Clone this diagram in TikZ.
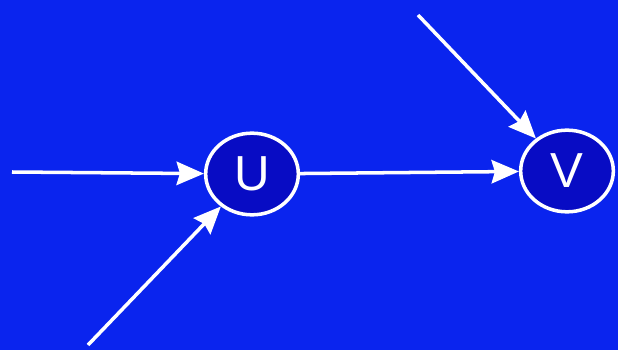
\documentclass[tikz,border=0pt]{standalone}
\usepackage{fontspec}
\setmainfont{Liberation Sans}
\usetikzlibrary{shapes.geometric, arrows.meta, positioning}
\definecolor{cBack}{RGB}{10,36,238}
\definecolor{cNode}{RGB}{8,12,196}
\tikzset{
	var/.style ={ellipse, draw=white, line width=3pt, fill=cNode, minimum width=2.78cm, minimum height=2.45cm, inner sep=0pt, text=white, font=\fontsize{42}{42}\selectfont},
	edge/.style={-{Stealth[length=0.82cm, width=0.7cm, inset=0.1cm]}, draw=white, line width=3pt},
}
\begin{document}
\begin{tikzpicture}
	\fill[cBack] (0,0) rectangle (18.54,10.5);
	\useasboundingbox (0,0) rectangle (18.54,10.5);
	\node[var] (u) at (7.56,5.28) {U};
	\node[var] (v) at (17.01,5.37) {V};
	\coordinate (inl) at (0.36,5.34);
	\coordinate (inb) at (2.64,0.15);
	\coordinate (int) at (12.54,10.05);
	\draw[edge] (inl) -- (u);
	\draw[edge] (inb) -- (u);
	\draw[edge] (u) -- (v);
	\draw[edge] (int) -- (v);
\end{tikzpicture}
\end{document}
